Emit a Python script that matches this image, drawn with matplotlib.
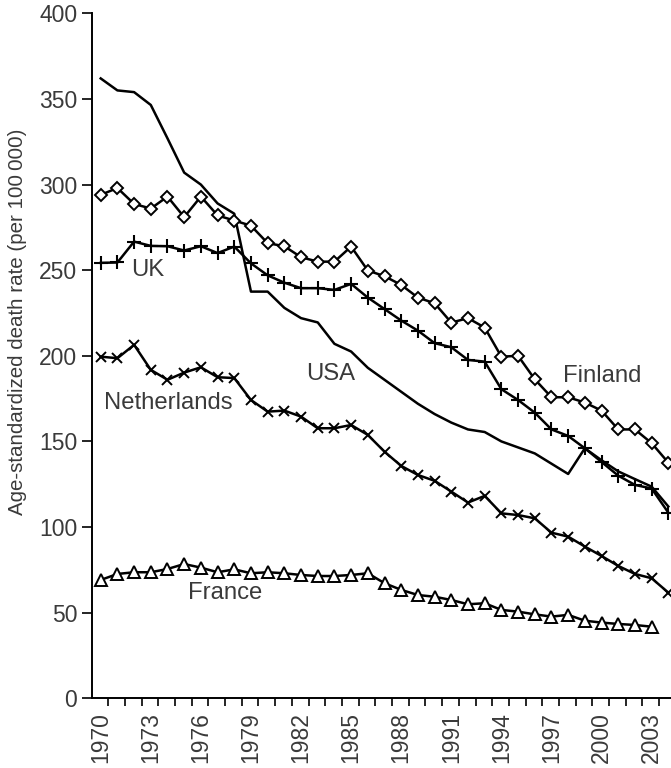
import numpy as np
import matplotlib
matplotlib.use("Agg")
import matplotlib.pyplot as plt
import matplotlib.ticker as ticker

plt.rcParams["font.family"] = ["Liberation Sans", "DejaVu Sans"]

years = list(range(1970, 2005))

usa = [362, 355, 354, 346.5, 327, 307, 300, 289, 283, 237.5, 237.5, 228, 222, 219.5, 207,
       202.5, 193, 186, 179, 172, 166, 161, 157, 155.5, 150, 146.5, 143, 137, 131, 146,
       139, 132.5, 128, 123.6, 112]
finland = [294, 298, 288.7, 286, 293, 281, 293, 282, 279, 276, 265.8, 264, 257.6, 255, 255,
           263.8, 249.8, 246.5, 241.4, 234, 230.7, 219.4, 222, 216.5, 199.5, 200, 186.3,
           175.8, 175.8, 172.7, 168, 157, 157, 149, 137.6]
uk = [254.3, 254.5, 266.7, 264.2, 264, 261.5, 264, 260, 263.8, 254, 247, 242.7, 239.5, 239.5,
      238.5, 242, 234, 227.3, 220.6, 214.7, 207.4, 205, 197.6, 196.6, 180.5, 174.2, 166.8,
      157, 153.2, 146, 138, 130, 124.6, 122.5, 108.4]
netherlands = [199.5, 198.6, 206.4, 191.8, 186, 190.2, 193.3, 187.5, 187, 174.2, 167.4, 168,
               164.5, 157.7, 157.7, 159.6, 153.8, 144, 135.7, 130.4, 127, 120.7, 114.3, 118.2,
               108, 107, 105.1, 96.7, 94.4, 88.6, 83.1, 77.3, 72.6, 70.1, 61.7]
france = [69.1, 72.6, 73.6, 73.6, 75.5, 78.4, 76.3, 73.6, 75.3, 73, 73.6, 73, 72, 71.4, 71.4,
          72, 73, 67.2, 63.3, 60.3, 59.3, 57.4, 54.9, 55.5, 51.6, 50.6, 49, 47.7, 48.7, 45.3,
          44.2, 43.4, 42.8, 41.8]

labels = ["UK", "Finland", "USA", "Netherlands", "France"]
label_pos = [(1972.8, 250), (2000.05, 188), (1983.8, 189.5), (1974.05, 172.7), (1977.45, 61.3)]

text_color = "#3a3a3a"

fig = plt.figure(figsize=(6.71, 7.68), dpi=100)
ax = fig.add_axes([0.1364, 0.0908, 0.8636, 0.8918])

lw = 1.8
ax.plot(years, usa, color="black", lw=lw, clip_on=False)
ax.plot(years, finland, color="black", lw=lw, marker="D", ms=6.5, mfc="white", mec="black",
        mew=1.4, clip_on=False)
ax.plot(years, uk, color="black", lw=lw, marker="+", ms=9.5, mec="black", mew=1.5, clip_on=False)
ax.plot(years, netherlands, color="black", lw=lw, marker="x", ms=6.5, mec="black", mew=1.4,
        clip_on=False)
ax.plot(years[:len(france)], france, color="black", lw=lw, marker="^", ms=9, mfc="white",
        mec="black", mew=1.4, clip_on=False)

for name, (x, y) in zip(labels, label_pos):
    ax.text(x, y, name, fontsize=17.2, color=text_color, ha="center", va="center")

ax.set_xlim(1969.45, 2004.16)
ax.set_ylim(0, 400)

ax.spines["top"].set_visible(False)
ax.spines["right"].set_visible(False)
ax.spines["left"].set_linewidth(1.4)
ax.spines["bottom"].set_linewidth(1.4)

ax.yaxis.set_major_locator(ticker.MultipleLocator(50))
ax.tick_params(axis="y", which="major", length=7.2, width=1.2, direction="out", pad=3,
               labelsize=16.5, labelcolor=text_color)

ax.set_xticks(years[::3])
ax.set_xticklabels([str(y) for y in years[::3]], rotation=90)
ax.set_xticks([y + 0.45 for y in years[:-1]], minor=True)
ax.tick_params(axis="x", which="major", length=0, pad=10, labelsize=16.5, labelcolor=text_color)
ax.tick_params(axis="x", which="minor", length=6, width=1.2, direction="out")

ax.set_ylabel("Age-standardized death rate (per 100\u2009000)", fontsize=14.8, color=text_color)
ax.yaxis.set_label_coords(-0.112, 0.55)

fig.savefig("out.png", dpi=100)
